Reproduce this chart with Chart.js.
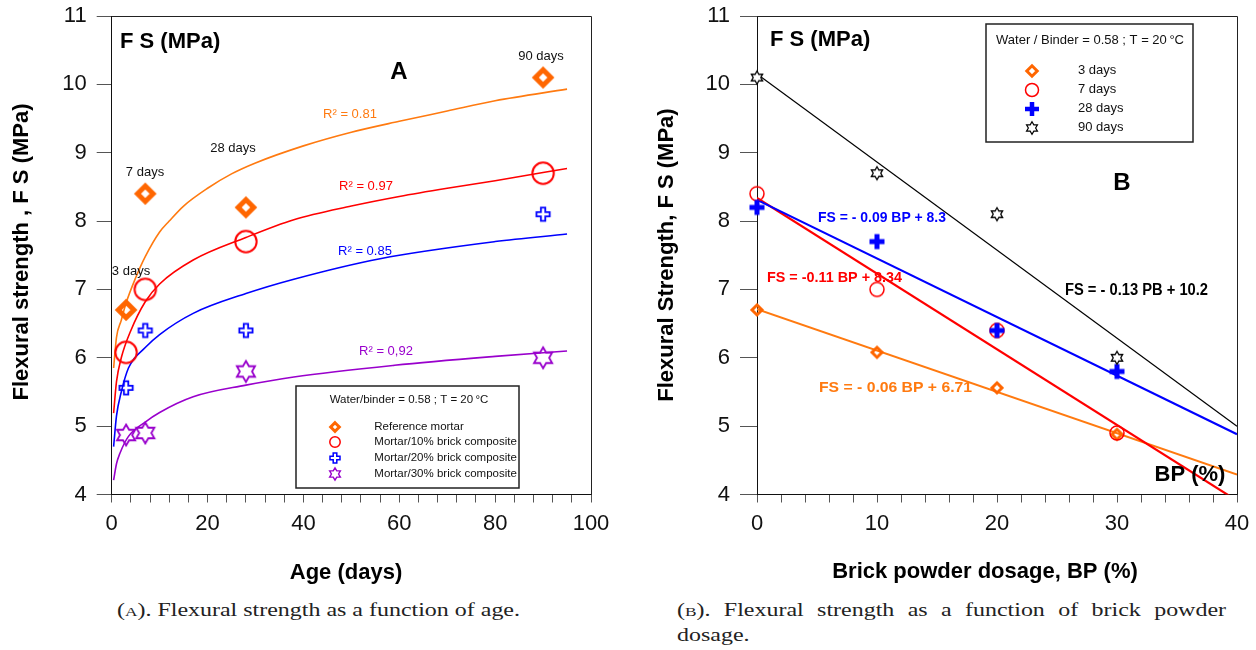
<!DOCTYPE html>
<html><head><meta charset="utf-8">
<script src="https://cdn.jsdelivr.net/npm/chart.js@4.4.1/dist/chart.umd.min.js"></script>
<style>
html,body{margin:0;padding:0;background:#fff;}
#wrap{position:relative;width:1256px;height:650px;overflow:hidden;background:#fff;}
#wrap canvas{position:absolute;top:0;}
#cA{left:0;} #cB{left:630px;}
.cap{position:absolute;font-family:'Liberation Serif','Times New Roman',serif;font-size:18px;color:#222;white-space:nowrap;line-height:21px;transform-origin:0 0;}
.sc{font-variant:small-caps;}
</style></head><body>
<div id="wrap">
<canvas id="cA" width="620" height="600"></canvas>
<canvas id="cB" width="626" height="600"></canvas>
<div class="cap" id="capA" style="left:117px;top:600px;">(<span class="sc">a</span>). Flexural strength as a function of age.</div>
<div class="cap" id="capB1" style="left:677px;top:600px;display:flex;justify-content:space-between;"><span>(<span class="sc">b</span>).</span><span>Flexural</span><span>strength</span><span>as</span><span>a</span><span>function</span><span>of</span><span>brick</span><span>powder</span></div>
<div class="cap" id="capB2" style="left:677px;top:625px;">dosage.</div>
</div>
<script>
// ---------------- data ----------------
const ageDays = [3, 7, 28, 90];
const fsReference = [6.7, 8.4, 8.2, 10.1];
const fsBrick10 = [6.08, 7.0, 7.7, 8.7];
const fsBrick20 = [5.56, 6.4, 6.4, 8.1];
const fsBrick30 = [4.87, 4.9, 5.8, 6.0];

// logarithmic trend curves
const fitAgeRef = [0.4, 1, 2, 3, 5, 7, 10, 12, 15, 20, 25, 30, 40, 50, 60, 70, 80, 95];
const fitFsRef  = [5.85, 6.3, 6.55, 6.8, 7.17, 7.48, 7.84, 8.0, 8.22, 8.48, 8.69, 8.85, 9.1, 9.3, 9.46, 9.61, 9.76, 9.93];
const fitAge10  = [0.4, 1, 2, 4, 7, 10, 17, 28, 38, 50, 60, 70, 80, 95];
const fitFs10   = [5.19, 5.65, 6.0, 6.4, 6.82, 7.08, 7.43, 7.76, 8.02, 8.22, 8.36, 8.48, 8.59, 8.77];
const fitAge20  = [0.4, 1, 2, 3.5, 7, 10, 17, 28, 38, 56, 80, 95];
const fitFs20   = [4.70, 5.15, 5.5, 5.85, 6.15, 6.34, 6.65, 6.94, 7.15, 7.45, 7.70, 7.81];
const fitAge30  = [0.4, 1, 1.7, 3.5, 7, 10, 17, 28, 38, 59, 80, 95];
const fitFs30   = [4.21, 4.45, 4.6, 4.85, 5.06, 5.2, 5.43, 5.6, 5.72, 5.89, 6.02, 6.10];

const bpDosage = [0, 10, 20, 30];
const fs3days  = [6.7, 6.08, 5.56, 4.88];
const fs7days  = [8.4, 7.0, 6.4, 4.9];
const fs28days = [8.2, 7.7, 6.4, 5.8];
const fs90days = [10.1, 8.7, 8.1, 6.0];

// linear trend lines: values at the two ends of the BP axis
const bpLineEnds = [0, 40];
const fit3days  = [6.71, 4.29];
const fit7days  = [8.34, 3.91];
const fit28days = [8.31, 4.88];
const fit90days = [10.15, 5.0];

const ageTickLabels = [0, 20, 40, 60, 80, 100];
const bpTickLabels = [0, 10, 20, 30, 40];
const fsTickLabels = [4, 5, 6, 7, 8, 9, 10, 11];

const ageLegend = ['Reference mortar', 'Mortar/10% brick composite', 'Mortar/20% brick composite', 'Mortar/30% brick composite'];
const bpLegend = ['3 days', '7 days', '28 days', '90 days'];

// ---------------- styling ----------------
const SANS = "'Liberation Sans', Arial, Helvetica, sans-serif";
Chart.defaults.font.family = SANS;
const ORANGE = '#FF6600', ORANGE_L = '#FF7A10', RED = '#FF0000', BLUE = '#0000FF', PURPLE = '#9900CC';

function pts(xs, ys) { return xs.map((x, i) => ({x: x, y: ys[i]})); }

function mk(half, draw) {
  const s = 2 * Math.ceil(half);
  const c = document.createElement('canvas');
  c.width = s; c.height = s;
  const g = c.getContext('2d');
  g.translate(s / 2, s / 2);
  draw(g);
  return c;
}
function diamondMk(r, lw, color) {
  return mk(r + lw + 3, g => {
    g.beginPath(); g.moveTo(0, -r); g.lineTo(r, 0); g.lineTo(0, r); g.lineTo(-r, 0); g.closePath();
    g.lineWidth = lw; g.strokeStyle = color; g.lineJoin = 'miter'; g.stroke();
  });
}
function circleMk(r, lw, color) {
  return mk(r + lw + 2, g => {
    g.beginPath(); g.arc(0, 0, r, 0, Math.PI * 2);
    g.lineWidth = lw; g.strokeStyle = color; g.stroke();
  });
}
function plusOutlineMk(a, w, lw, color) {
  return mk(a + lw + 2, g => {
    const p = [[-w,-a],[w,-a],[w,-w],[a,-w],[a,w],[w,w],[w,a],[-w,a],[-w,w],[-a,w],[-a,-w],[-w,-w]];
    g.beginPath(); p.forEach((q, i) => i ? g.lineTo(q[0], q[1]) : g.moveTo(q[0], q[1])); g.closePath();
    g.lineWidth = lw; g.strokeStyle = color; g.lineJoin = 'miter'; g.stroke();
  });
}
function plusSolidMk(a, lw, color) {
  return mk(a + lw + 2, g => {
    g.beginPath(); g.moveTo(-a, 0); g.lineTo(a, 0); g.moveTo(0, -a); g.lineTo(0, a);
    g.lineWidth = lw; g.strokeStyle = color; g.lineCap = 'butt'; g.stroke();
  });
}
function hexMk(R, lw, color, fill) {
  return mk(R + lw + 2, g => {
    const r = R / Math.sqrt(3);
    g.beginPath();
    for (let k = 0; k < 12; k++) {
      const ang = (-90 + k * 30) * Math.PI / 180, rr = k % 2 ? r : R;
      const x = rr * Math.cos(ang), y = rr * Math.sin(ang);
      k ? g.lineTo(x, y) : g.moveTo(x, y);
    }
    g.closePath();
    if (fill) { g.fillStyle = fill; g.fill(); }
    g.lineWidth = lw; g.strokeStyle = color; g.lineJoin = 'miter'; g.stroke();
  });
}

// markers
const mA = [diamondMk(7.8, 5, ORANGE), circleMk(10.7, 2, RED), plusOutlineMk(6.6, 2.2, 1.8, BLUE), hexMk(10.5, 1.8, PURPLE)];
const mAleg = [diamondMk(4.3, 3, ORANGE), circleMk(5.2, 1.5, RED), plusOutlineMk(5, 1.8, 1.5, BLUE), hexMk(6.2, 1.4, PURPLE)];
const mB = [diamondMk(5, 3, ORANGE), circleMk(7, 1.5, RED), plusSolidMk(7.5, 5, BLUE), hexMk(6.5, 1.3, '#000', '#fff')];
const mBleg = [diamondMk(5.2, 3, ORANGE), circleMk(6.5, 1.5, RED), plusSolidMk(7, 4.5, BLUE), hexMk(6.3, 1.2, '#000', '#fff')];

function text(ctx, s, x, y, font, color, align, fitW) {
  ctx.save();
  ctx.font = font; ctx.fillStyle = color; ctx.textBaseline = 'middle';
  if (fitW) {
    const w = ctx.measureText(s).width;
    ctx.translate(x, y); ctx.scale(fitW / w, 1); ctx.textAlign = 'center'; ctx.fillText(s, 0, 0);
  } else { ctx.textAlign = align || 'center'; ctx.fillText(s, x, y); }
  ctx.restore();
}
function vtext(ctx, s, x, y, font, color) {
  ctx.save(); ctx.font = font; ctx.fillStyle = color; ctx.textAlign = 'center'; ctx.textBaseline = 'middle';
  ctx.translate(x, y); ctx.rotate(-Math.PI / 2); ctx.fillText(s, 0, 0); ctx.restore();
}
function frame(chart) {
  const {ctx, chartArea: a} = chart;
  ctx.save(); ctx.strokeStyle = '#222'; ctx.lineWidth = 1;
  ctx.beginPath();
  ctx.moveTo(Math.round(a.left), Math.round(a.top) + 0.5); ctx.lineTo(Math.round(a.right) + 0.5, Math.round(a.top) + 0.5);
  ctx.lineTo(Math.round(a.right) + 0.5, Math.round(a.bottom));
  ctx.stroke(); ctx.restore();
}
function legendBox(ctx, x0, y0, x1, y1, title, titleFont, titleX, titleY, items, marks, mx, tx, rows, itemFont) {
  ctx.save();
  ctx.fillStyle = '#fff'; ctx.fillRect(x0, y0, x1 - x0, y1 - y0);
  ctx.strokeStyle = '#222'; ctx.lineWidth = 1.5; ctx.strokeRect(x0, y0, x1 - x0, y1 - y0);
  ctx.restore();
  text(ctx, title, titleX, titleY, titleFont, '#111');
  items.forEach((s, i) => {
    const m = marks[i];
    ctx.drawImage(m, Math.round(mx - m.width / 2), Math.round(rows[i] - m.height / 2));
    text(ctx, s, tx, rows[i], itemFont, '#111', 'left');
  });
}

function axisOpts(min, max, step, labels, tickLen, pad, fit) {
  return {
    type: 'linear', min: min, max: max,
    afterFit: s => { fit(s); s.paddingTop = 0; s.paddingBottom = 0; s.paddingLeft = 0; s.paddingRight = 0; },
    ticks: {
      stepSize: step, autoSkip: false, maxRotation: 0, minRotation: 0, maxTicksLimit: 100,
      padding: pad, color: '#111', font: {size: 22, family: SANS},
      callback: v => labels.includes(v) ? String(v) : ''
    },
    grid: {drawOnChartArea: false, drawTicks: true, tickLength: tickLen, color: '#555', tickColor: '#555', lineWidth: 1},
    border: {display: true, color: '#111', width: 1}
  };
}

// ---------------- chart A ----------------
new Chart(document.getElementById('cA'), {
  type: 'scatter',
  data: {
    datasets: [
      {data: pts(ageDays, fsReference), pointStyle: mA[0], pointRadius: 10, order: 0, clip: false},
      {data: pts(ageDays, fsBrick10), pointStyle: mA[1], pointRadius: 10, order: 0, clip: false},
      {data: pts(ageDays, fsBrick20), pointStyle: mA[2], pointRadius: 10, order: 0, clip: false},
      {data: pts(ageDays, fsBrick30), pointStyle: mA[3], pointRadius: 10, order: 0, clip: false},
      {data: pts(fitAgeRef, fitFsRef), showLine: true, pointRadius: 0, borderColor: ORANGE_L, borderWidth: 1.6, cubicInterpolationMode: 'monotone', order: 1},
      {data: pts(fitAge10, fitFs10), showLine: true, pointRadius: 0, borderColor: RED, borderWidth: 1.6, cubicInterpolationMode: 'monotone', order: 1},
      {data: pts(fitAge20, fitFs20), showLine: true, pointRadius: 0, borderColor: BLUE, borderWidth: 1.6, cubicInterpolationMode: 'monotone', order: 1},
      {data: pts(fitAge30, fitFs30), showLine: true, pointRadius: 0, borderColor: PURPLE, borderWidth: 1.6, cubicInterpolationMode: 'monotone', order: 1}
    ]
  },
  options: {
    responsive: false, animation: false, devicePixelRatio: 1,
    layout: {padding: {left: 0, right: 29, top: 16, bottom: 0}},
    plugins: {legend: {display: false}, tooltip: {enabled: false}},
    scales: {
      x: axisOpts(0, 100, 4, ageTickLabels, 8, 8, s => { s.height = 105.5; }),
      y: axisOpts(4, 11, 1, fsTickLabels, 15, 10, s => { s.width = 111.7; })
    }
  },
  plugins: [{
    id: 'decorA',
    beforeDatasetsDraw(chart) { frame(chart); },
    afterDatasetsDraw(chart) {
      const ctx = chart.ctx;
      text(ctx, 'F S (MPa)', 120, 42, 'bold 22px ' + SANS, '#000', 'left');
      text(ctx, 'A', 399, 72, 'bold 24px ' + SANS, '#000');
      text(ctx, '90 days', 541, 56, '13px ' + SANS, '#111');
      text(ctx, '7 days', 145, 172.5, '13px ' + SANS, '#111');
      text(ctx, '28 days', 233, 148.5, '13px ' + SANS, '#111');
      text(ctx, '3 days', 131, 271.5, '13px ' + SANS, '#111');
      text(ctx, 'R\u00B2 = 0.81', 350, 114, '13px ' + SANS, ORANGE_L);
      text(ctx, 'R\u00B2 = 0.97', 366, 186.5, '13px ' + SANS, RED);
      text(ctx, 'R\u00B2 = 0.85', 365, 251.5, '13px ' + SANS, BLUE);
      text(ctx, 'R\u00B2 = 0,92', 386, 351.5, '13px ' + SANS, PURPLE);
      legendBox(ctx, 296, 386, 519, 488, 'Water/binder = 0.58 ; T = 20\u202F\u00B0C', '11.5px ' + SANS, 409, 400,
        ageLegend, mAleg, 335.3, 374.3, [426.7, 442.3, 458.3, 474.3], '11.5px ' + SANS);
      vtext(ctx, 'Flexural strength , F S (MPa)', 22, 252, 'bold 22px ' + SANS, '#000');
      text(ctx, 'Age (days)', 346, 573, 'bold 22px ' + SANS, '#000');
    }
  }]
});

// ---------------- chart B ----------------
const OX = 630;
new Chart(document.getElementById('cB'), {
  type: 'scatter',
  data: {
    datasets: [
      {data: pts(bpDosage, fs3days), pointStyle: mB[0], pointRadius: 8, order: 3, clip: false},
      {data: pts(bpDosage, fs7days), pointStyle: mB[1], pointRadius: 8, order: 2, clip: false},
      {data: pts(bpDosage, fs28days), pointStyle: mB[2], pointRadius: 8, order: 1, clip: false},
      {data: pts(bpDosage, fs90days), pointStyle: mB[3], pointRadius: 8, order: 0, clip: false},
      {data: pts(bpLineEnds, fit3days), showLine: true, pointRadius: 0, borderColor: ORANGE_L, borderWidth: 2, order: 6},
      {data: pts(bpLineEnds, fit7days), showLine: true, pointRadius: 0, borderColor: RED, borderWidth: 2.2, order: 5},
      {data: pts(bpLineEnds, fit28days), showLine: true, pointRadius: 0, borderColor: BLUE, borderWidth: 2.2, order: 4},
      {data: pts(bpLineEnds, fit90days), showLine: true, pointRadius: 0, borderColor: '#000', borderWidth: 1.2, order: 7}
    ]
  },
  options: {
    responsive: false, animation: false, devicePixelRatio: 1,
    layout: {padding: {left: 0, right: 19, top: 16, bottom: 0}},
    plugins: {legend: {display: false}, tooltip: {enabled: false}},
    scales: {
      x: axisOpts(0, 40, 2, bpTickLabels, 8, 8, s => { s.height = 105.5; }),
      y: axisOpts(4, 11, 1, fsTickLabels, 17, 10, s => { s.width = 127; })
    }
  },
  plugins: [{
    id: 'decorB',
    beforeDatasetsDraw(chart) { frame(chart); },
    afterDatasetsDraw(chart) {
      const ctx = chart.ctx;
      text(ctx, 'F S (MPa)', 770 - OX, 40, 'bold 22px ' + SANS, '#000', 'left');
      text(ctx, 'B', 1122 - OX, 183, 'bold 24px ' + SANS, '#000');
      text(ctx, 'FS = - 0.09 BP + 8.3', 882 - OX, 218, 'bold 15px ' + SANS, BLUE, 'center', 128);
      text(ctx, 'FS = -0.11 BP + 8.34', 834.5 - OX, 278, 'bold 15px ' + SANS, RED, 'center', 135);
      text(ctx, 'FS = - 0.13 PB + 10.2', 1136.5 - OX, 290.5, 'bold 16px ' + SANS, '#000', 'center', 143);
      text(ctx, 'FS = - 0.06 BP + 6.71', 895.5 - OX, 388, 'bold 15px ' + SANS, ORANGE_L, 'center', 153);
      text(ctx, 'BP (%)', 1190 - OX, 475, 'bold 22px ' + SANS, '#000');
      legendBox(ctx, 986 - OX, 24, 1193 - OX, 142, 'Water / Binder = 0.58 ; T = 20\u202F\u00B0C', '13px ' + SANS, 1090 - OX, 40,
        bpLegend, mBleg, 1032 - OX, 1078 - OX, [70.7, 89.7, 108.7, 127.7], '13px ' + SANS);
      vtext(ctx, 'Flexural Strength, F S (MPa)', 667 - OX, 255, 'bold 22px ' + SANS, '#000');
      text(ctx, 'Brick powder dosage, BP (%)', 985 - OX, 572, 'bold 22px ' + SANS, '#000');
    }
  }]
});

// ---------------- captions: fit widths to the reference ----------------
(function () {
  const a = document.getElementById('capA');
  const s = 403 / a.getBoundingClientRect().width;
  a.style.transform = 'scaleX(' + s + ')';
  const b1 = document.getElementById('capB1');
  b1.style.width = (549 / s) + 'px';
  b1.style.transform = 'scaleX(' + s + ')';
  document.getElementById('capB2').style.transform = 'scaleX(' + s + ')';
})();
</script>
</body></html>
